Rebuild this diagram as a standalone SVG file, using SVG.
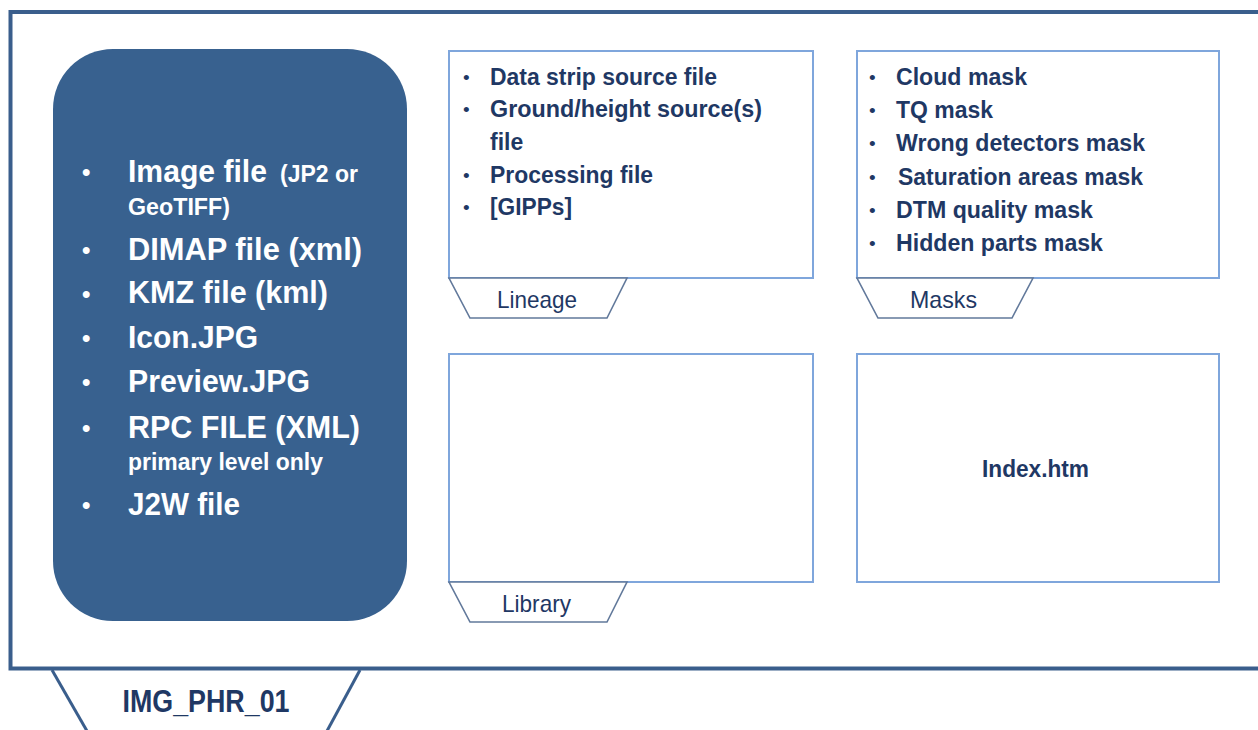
<svg xmlns="http://www.w3.org/2000/svg" width="1258" height="730" viewBox="0 0 1258 730">
<style>
.frame{fill:#fff;stroke:#3A5E8C;stroke-width:4}
.box{fill:#fff;stroke:#7FA6DC;stroke-width:2}
.tab{fill:#fff;stroke:#62799B;stroke-width:1.6}
.w{font-family:"Liberation Sans",Arial,sans-serif;font-weight:bold;fill:#fff}
.t{font-family:"Liberation Sans",Arial,sans-serif;font-weight:bold;fill:#1F3864;font-size:23px}
.lbl{font-family:"Liberation Sans",Arial,sans-serif;fill:#1F3864;font-size:24px}
.b{font-family:"Liberation Sans",Arial,sans-serif;fill:#1F3864;font-size:19px}
</style>
<rect width="1258" height="730" fill="#fff"/>
<g id="package">
<rect class="frame" x="10.5" y="12" width="1270" height="656.5"/>
<polyline points="52,670 87,731" fill="none" stroke="#3A5E8C" stroke-width="3"/>
<polyline points="360,670 327,731" fill="none" stroke="#3A5E8C" stroke-width="3"/>
<text x="206" y="712" text-anchor="middle" font-family="Liberation Sans, Arial, sans-serif" font-weight="bold" font-size="31" fill="#1F3864" textLength="167" lengthAdjust="spacingAndGlyphs">IMG_PHR_01</text>
</g>
<g id="image-files">
<rect x="53" y="49" width="354" height="572" rx="60" ry="60" fill="#38618F"/>
<g class="w" font-size="24">
<text x="82" y="180">•</text>
<text x="82" y="258">•</text>
<text x="82" y="302">•</text>
<text x="82" y="346">•</text>
<text x="82" y="390">•</text>
<text x="82" y="436">•</text>
<text x="82" y="513">•</text>
</g>
<g class="w" font-size="31">
<text x="128" y="182" textLength="139" lengthAdjust="spacingAndGlyphs">Image file</text>
<text x="128" y="260" textLength="234" lengthAdjust="spacingAndGlyphs">DIMAP file (xml)</text>
<text x="128" y="303" textLength="200" lengthAdjust="spacingAndGlyphs">KMZ file (kml)</text>
<text x="128" y="348" textLength="130" lengthAdjust="spacingAndGlyphs">Icon.JPG</text>
<text x="128" y="392" textLength="182" lengthAdjust="spacingAndGlyphs">Preview.JPG</text>
<text x="128" y="438" textLength="232" lengthAdjust="spacingAndGlyphs">RPC FILE (XML)</text>
<text x="128" y="515" textLength="112" lengthAdjust="spacingAndGlyphs">J2W file</text>
</g>
<g class="w" font-size="23">
<text x="280" y="182" textLength="78" lengthAdjust="spacingAndGlyphs">(JP2 or</text>
<text x="128" y="215" textLength="102" lengthAdjust="spacingAndGlyphs">GeoTIFF)</text>
<text x="128" y="470" textLength="195" lengthAdjust="spacingAndGlyphs">primary level only</text>
</g>
</g>
<g id="lineage">
<rect class="box" x="449" y="51" width="364" height="227"/>
<polygon class="tab" points="449,278 627,278 607,318 470,318"/>
<text class="lbl" x="497" y="308" textLength="80" lengthAdjust="spacingAndGlyphs">Lineage</text>
<text class="b" x="463" y="84">•</text>
<text class="b" x="463" y="116">•</text>
<text class="b" x="463" y="182">•</text>
<text class="b" x="463" y="214">•</text>
<text class="t" x="490" y="85" textLength="227" lengthAdjust="spacingAndGlyphs">Data strip source file</text>
<text class="t" x="490" y="117" textLength="272" lengthAdjust="spacingAndGlyphs">Ground/height source(s)</text>
<text class="t" x="490" y="150">file</text>
<text class="t" x="490" y="183" textLength="163" lengthAdjust="spacingAndGlyphs">Processing file</text>
<text class="t" x="490" y="215" textLength="82" lengthAdjust="spacingAndGlyphs">[GIPPs]</text>
</g>
<g id="masks">
<rect class="box" x="857" y="51" width="362" height="227"/>
<polygon class="tab" points="857,278 1033,278 1012,318 878,318"/>
<text class="lbl" x="910" y="308" textLength="67" lengthAdjust="spacingAndGlyphs">Masks</text>
<text class="b" x="869" y="84">•</text>
<text class="b" x="869" y="117">•</text>
<text class="b" x="869" y="150">•</text>
<text class="b" x="869" y="184">•</text>
<text class="b" x="869" y="217">•</text>
<text class="b" x="869" y="250">•</text>
<text class="t" x="896" y="85" textLength="131" lengthAdjust="spacingAndGlyphs">Cloud mask</text>
<text class="t" x="896" y="118" textLength="97" lengthAdjust="spacingAndGlyphs">TQ mask</text>
<text class="t" x="896" y="151" textLength="249" lengthAdjust="spacingAndGlyphs">Wrong detectors mask</text>
<text class="t" x="898" y="185" textLength="245" lengthAdjust="spacingAndGlyphs">Saturation areas mask</text>
<text class="t" x="896" y="218" textLength="197" lengthAdjust="spacingAndGlyphs">DTM quality mask</text>
<text class="t" x="896" y="251" textLength="207" lengthAdjust="spacingAndGlyphs">Hidden parts mask</text>
</g>
<g id="library">
<rect class="box" x="449" y="354" width="364" height="228"/>
<polygon class="tab" points="449,582 627,582 607,622 470,622"/>
<text class="lbl" x="502" y="612" textLength="69" lengthAdjust="spacingAndGlyphs">Library</text>
</g>
<g id="index">
<rect class="box" x="857" y="354" width="362" height="228"/>
<text class="t" x="982" y="477" textLength="107" lengthAdjust="spacingAndGlyphs">Index.htm</text>
</g>
<g id="connectors"/>
</svg>
